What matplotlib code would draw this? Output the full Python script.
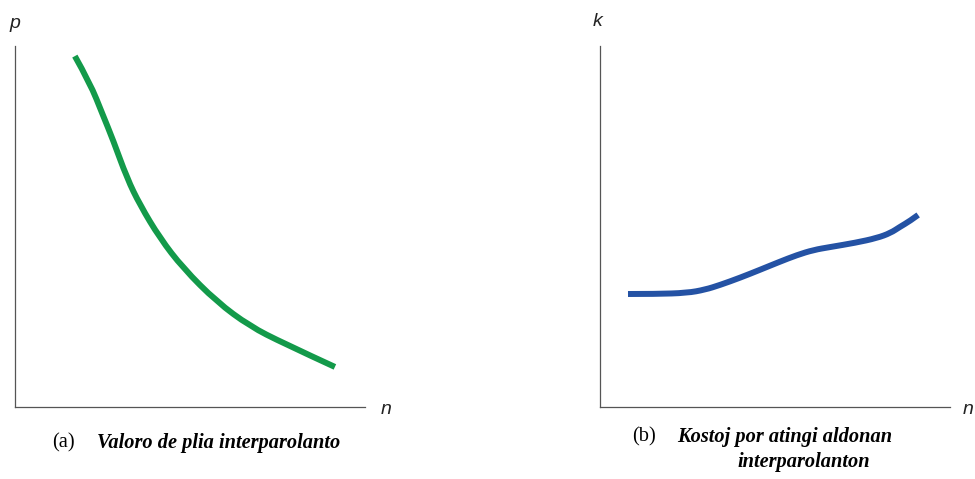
import matplotlib
matplotlib.use("Agg")
import matplotlib.pyplot as plt
from matplotlib.path import Path
from matplotlib.patches import PathPatch

# valoro de plia interparolanto (n -> p)
n_a = [1.71, 2.14, 2.51, 2.80, 3.20, 3.57, 4.14, 4.80, 5.77, 6.71, 7.66, 9.14]
p_a = [9.72, 8.98, 8.09, 7.40, 6.34, 5.60, 4.68, 3.85, 2.91, 2.24, 1.77, 1.11]

# kostoj por atingi aldonan interparolanton (n -> k)
n_b = [0.80, 1.60, 2.49, 3.00, 3.43, 4.00, 4.57, 5.10, 5.63, 6.10, 6.57, 7.30, 7.91, 8.30, 8.57, 8.85, 9.09]
k_b = [3.13, 3.13, 3.16, 3.25, 3.38, 3.58, 3.80, 4.01, 4.21, 4.35, 4.43, 4.55, 4.68, 4.82, 4.99, 5.15, 5.32]

W, H = 975, 479
fig = plt.figure(figsize=(W / 100, H / 100), dpi=100)

def px_axes(x0, y0, x1, y1):
    # pixel box -> figure fraction
    return fig.add_axes([x0 / W, 1 - y1 / H, (x1 - x0) / W, (y1 - y0) / H])

def smooth_line(ax, xs, ys, color):
    # quadratic curve through the midpoints, the points act as control points
    pts = list(zip(xs, ys))
    verts = [pts[0]]
    codes = [Path.MOVETO]
    for i in range(1, len(pts) - 1):
        mid = ((pts[i][0] + pts[i + 1][0]) / 2, (pts[i][1] + pts[i + 1][1]) / 2)
        if i == len(pts) - 2:
            mid = pts[-1]
        verts += [pts[i], mid]
        codes += [Path.CURVE3, Path.CURVE3]
    ax.add_patch(PathPatch(Path(verts, codes), fill=False, edgecolor=color,
                           lw=4.3, capstyle='butt', joinstyle='round'))

ax1 = px_axes(15, 46, 365, 407)
ax2 = px_axes(600, 46, 950, 407)

for ax in (ax1, ax2):
    ax.set_xlim(0, 10)
    ax.set_ylim(0, 10)
    ax.set_xticks([])
    ax.set_yticks([])
    ax.spines['top'].set_visible(False)
    ax.spines['right'].set_visible(False)
    for s in ('left', 'bottom'):
        ax.spines[s].set_color('#555555')
        ax.spines[s].set_linewidth(0.9)
    ax.patch.set_alpha(0)

smooth_line(ax1, n_a, p_a, '#139a4a')
smooth_line(ax2, n_b, k_b, '#2452a4')

def ftext(x, y, s, **kw):
    fig.text(x / W, 1 - y / H, s, **kw)

lab = dict(family='Liberation Sans', style='italic', fontsize=14, color='#222222',
           ha='center', va='center')
ftext(15, 24, 'p', **lab)
ftext(386, 409, 'n', **lab)
ftext(598, 21, 'k', **lab)
ftext(968, 409, 'n', **lab)

cap = dict(family='Liberation Serif', fontsize=14.7, color='black', va='center')
capb = dict(cap, weight='bold', style='italic')
ftext(52, 443, '(a)', **cap)
ftext(97, 443, 'Valoro de plia interparolanto', **capb)
ftext(632, 437, '(b)', **cap)
ftext(677, 437, 'Kostoj por atingi aldonan', **capb)
ftext(737, 462, 'interparolanton', **capb)

fig.savefig('out.png', dpi=100)
